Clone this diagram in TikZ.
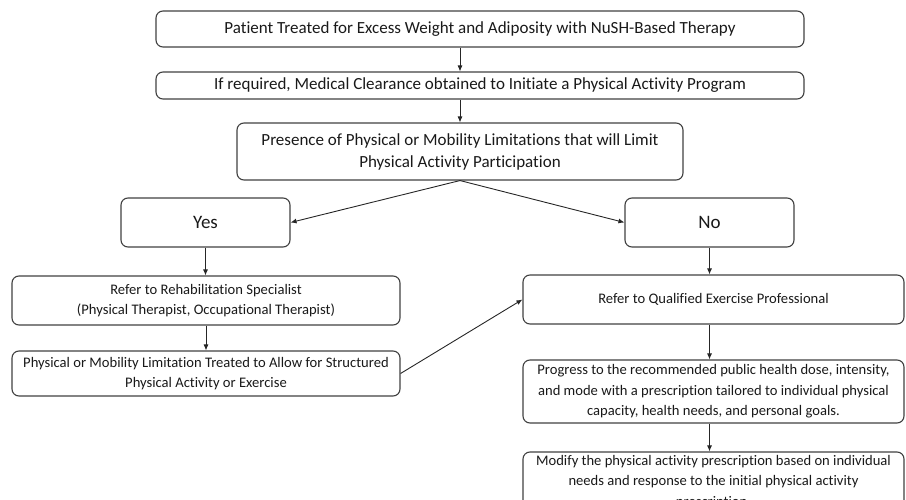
\documentclass[tikz,border=0pt]{standalone}
\usepackage{fontspec}
\setmainfont[Ligatures=NoCommon]{Carlito}
\usetikzlibrary{arrows.meta}

\tikzset{
  box/.style={draw=black!75, line width=1.1pt, rounded corners=7pt,
              align=center, inner sep=0pt, text=black!90},
  toptext/.style={font=\fontsize{17}{22}\selectfont},
  lowtext/.style={font=\fontsize{14.6}{20.5}\selectfont},
  arr/.style={-{Latex[length=6pt,width=5pt]}, line width=0.9pt, draw=black!85},
}

\begin{document}
\begin{tikzpicture}[x=1pt,y=-1pt]

\useasboundingbox (0,0) rectangle (906,500);
\clip (0,0) rectangle (906,500);

% Top of the chart
\node[box, toptext, minimum width=648pt, minimum height=36pt] (treat) at (480,29)
  {Patient Treated for Excess Weight and Adiposity with NuSH-Based Therapy};
\node[box, toptext, minimum width=648pt, minimum height=27pt] (clear) at (480,85.5)
  {If required, Medical Clearance obtained to Initiate a Physical Activity Program};
\node[box, toptext, minimum width=446pt, minimum height=57pt] (limits) at (460,151.5)
  {Presence of Physical or Mobility Limitations that will Limit\\Physical Activity Participation};

% Decision
\node[box, font=\fontsize{19}{22}\selectfont, minimum width=169pt, minimum height=49pt] (yes) at (205.5,222.5) {Yes};
\node[box, font=\fontsize{19}{22}\selectfont, minimum width=169pt, minimum height=49pt] (no) at (709.5,222.5) {No};

% Left branch
\node[box, lowtext, minimum width=388pt, minimum height=49pt] (rehab) at (206,300.5)
  {Refer to Rehabilitation Specialist\\(Physical Therapist, Occupational Therapist)};
\node[box, lowtext, minimum width=388pt, minimum height=45pt] (treated) at (206,373.5)
  {Physical or Mobility Limitation Treated to Allow for Structured\\Physical Activity or Exercise};

% Right branch
\node[box, lowtext, minimum width=381pt, minimum height=49pt] (qep) at (713.5,299.5)
  {Refer to Qualified Exercise Professional};
\node[box, lowtext, minimum width=381pt, minimum height=63pt] (progress) at (713.5,391.5)
  {Progress to the recommended public health dose, intensity,\\and mode with a prescription tailored to individual physical\\capacity, health needs, and personal goals.};
\node[box, lowtext, minimum width=381pt, minimum height=60pt] (modify) at (713.5,482)
  {Modify the physical activity prescription based on individual\\needs and response to the initial physical activity\\prescription.};

% Arrows
\draw[arr] (treat.south -| limits.north) -- (clear.north -| limits.north);
\draw[arr] (clear.south -| limits.north) -- (limits.north);
\draw[arr] (limits.south) -- (yes.east);
\draw[arr] (limits.south) -- (no.west);
\draw[arr] (yes.south) -- (yes.south |- rehab.north);
\draw[arr] (rehab.south) -- (treated.north);
\draw[arr] (treated.east) -- (qep.west);
\draw[arr] (no.south) -- (no.south |- qep.north);
\draw[arr] (qep.south -| no.south) -- (progress.north -| no.south);
\draw[arr] (progress.south -| no.south) -- (modify.north -| no.south);

\end{tikzpicture}
\end{document}
